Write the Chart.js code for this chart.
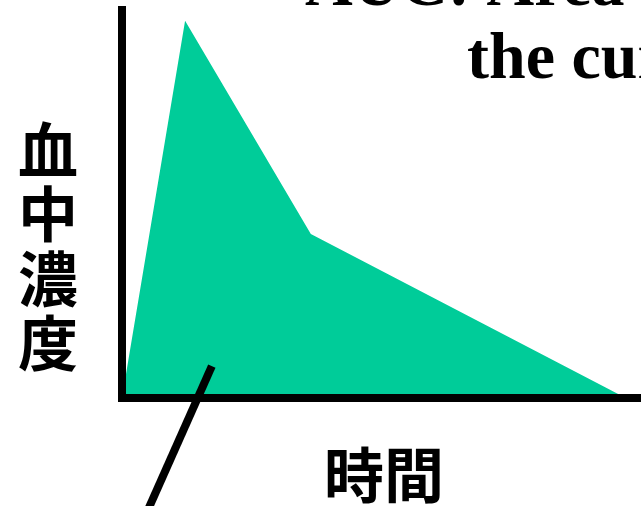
<!DOCTYPE html>
<html>
<head>
<meta charset="utf-8">
<script src="https://cdn.jsdelivr.net/npm/chart.js@4/dist/chart.umd.min.js"></script>
<style>
  html, body { margin: 0; padding: 0; background: #fff; }
  #wrap { width: 641px; height: 506px; }
</style>
</head>
<body>
<div id="wrap"><canvas id="auc"></canvas></div>
<script>
// Datos de la curva (tiempo en horas, concentración en %)
const tiempo = [0, 1.58, 4.73, 12.62];
const concentracion = [0, 97.2, 42.3, 0];

// Línea indicadora del área
const flechaX = [2.25, 0.6];
const flechaY = [8.2, -30];

const tituloLineas = ['AUC: Area under', 'the curve'];
const etiquetaY = ['血', '中', '濃', '度'];
const etiquetaX = '時間';

const verde = '#00CC99';

// Plugin para los textos fuera del área del gráfico
const textos = {
    id: 'textos',
    afterDraw(chart) {
        const ctx = chart.ctx;
        ctx.save();
        ctx.fillStyle = '#000';

        // Título (cortado en el borde superior)
        ctx.font = 'bold 66px "Liberation Serif", "Times New Roman", serif';
        ctx.textAlign = 'left';
        ctx.textBaseline = 'alphabetic';
        ctx.fillText(tituloLineas[0], 305, 5);
        ctx.fillText(tituloLineas[1], 467, 78);

        // Eje Y en vertical, un carácter por línea
        ctx.font = 'bold 60px "Noto Sans CJK JP", sans-serif';
        ctx.textAlign = 'center';
        ctx.textBaseline = 'middle';
        etiquetaY.forEach((c, i) => {
            ctx.fillText(c, 48, 150 + i * 64.5);
        });

        // Eje X
        ctx.fillText(etiquetaX, 384, 475);
        ctx.restore();
    }
};

const ctx = document.getElementById('auc').getContext('2d');
new Chart(ctx, {
    type: 'line',
    data: {
        datasets: [{
            // la flecha va primero para quedar encima del área
            data: flechaX.map((x, i) => ({x: x, y: flechaY[i]})),
            borderColor: '#000',
            borderWidth: 8,
            borderCapStyle: 'butt',
            pointRadius: 0,
            fill: false,
            clip: false
        }, {
            data: tiempo.map((t, i) => ({x: t, y: concentracion[i]})),
            backgroundColor: verde,
            borderWidth: 0,
            pointRadius: 0,
            fill: 'origin',
            tension: 0
        }]
    },
    options: {
        responsive: true,
        maintainAspectRatio: false,
        animation: false,
        layout: {
            padding: {left: 122, top: 10, right: 0, bottom: 108}
        },
        plugins: {
            legend: {display: false},
            tooltip: {enabled: false}
        },
        scales: {
            x: {
                type: 'linear',
                min: 0,
                max: 13,
                grid: {display: false, drawTicks: false, tickLength: 0},
                ticks: {display: false},
                // z para que los ejes queden por encima del área verde
                border: {display: true, color: '#000', width: 8, z: 2}
            },
            y: {
                min: 0,
                max: 100,
                grid: {display: false, drawTicks: false, tickLength: 0},
                ticks: {display: false},
                border: {display: true, color: '#000', width: 8, z: 2}
            }
        }
    },
    plugins: [textos]
});
</script>
</body>
</html>
